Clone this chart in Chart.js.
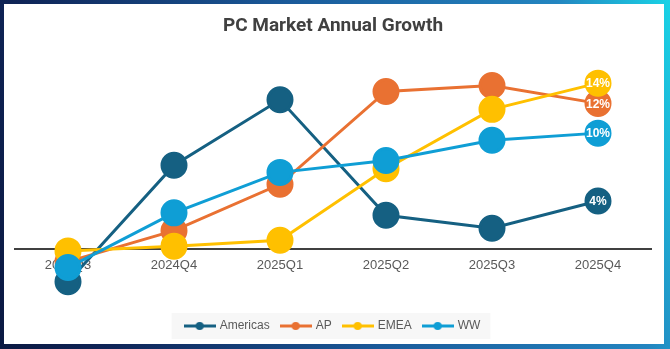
<!DOCTYPE html>
<html>
<head>
<meta charset="utf-8">
<script src="https://cdn.jsdelivr.net/npm/chart.js@4.4.1/dist/chart.umd.min.js"></script>
<style>
  html, body { margin: 0; padding: 0; }
  body {
    width: 670px; height: 349px; position: relative; overflow: hidden;
    background: linear-gradient(75deg, #0b1942 0%, #0f2558 15%, #1a5a9a 50%, #2385c0 85%, #19d3e6 100%);
  }
  #box {
    position: absolute; left: 4px; top: 4px; width: 660px; height: 340px;
    background: #fff; overflow: hidden;
  }
  #growthChart { position: absolute; left: -4px; top: 0; }
</style>
</head>
<body>
<div id="box"><canvas id="growthChart" width="666" height="340"></canvas></div>
<script>
const quarters = ['2024Q3', '2024Q4', '2025Q1', '2025Q2', '2025Q3', '2025Q4'];
const americas = [-2.8, 7.0, 12.5, 2.8, 1.7, 4.0];
const ap = [-1.1, 1.5, 5.4, 13.2, 13.7, 12.2];
const emea = [-0.2, 0.2, 0.7, 6.7, 11.7, 13.9];
const ww = [-1.6, 3.0, 6.4, 7.4, 9.1, 9.7];

const colors = {
    americas: '#156082',
    ap: '#e97132',
    emea: '#ffc000',
    ww: '#0f9ed5'
};

// little line-with-dot icon for the legend
function legendIcon(color) {
    let c = document.createElement('canvas');
    c.width = 32;
    c.height = 10;
    let g = c.getContext('2d');
    g.strokeStyle = color;
    g.lineWidth = 3;
    g.beginPath();
    g.moveTo(0, 5);
    g.lineTo(32, 5);
    g.stroke();
    g.fillStyle = color;
    g.beginPath();
    g.arc(16, 5, 4, 0, Math.PI * 2);
    g.fill();
    return c;
}

function makeSet(label, data, color, order) {
    return {
        label: label,
        data: data,
        borderColor: color,
        backgroundColor: color,
        pointBackgroundColor: color,
        pointBorderColor: color,
        borderWidth: 3,
        pointRadius: 12,
        pointHoverRadius: 12,
        tension: 0,
        fill: false,
        order: order,
        pointStyle: 'circle',
        legendIcon: legendIcon(color)
    };
}

// white % label on the last point of every series
const endLabels = {
    id: 'endLabels',
    afterDatasetsDraw(chart) {
        let ctx = chart.ctx;
        ctx.save();
        ctx.font = 'bold 12px "Liberation Sans", Arial, sans-serif';
        ctx.fillStyle = '#ffffff';
        ctx.textAlign = 'center';
        ctx.textBaseline = 'middle';
        chart.data.datasets.forEach((ds, i) => {
            let meta = chart.getDatasetMeta(i);
            let last = meta.data[meta.data.length - 1];
            let v = ds.data[ds.data.length - 1];
            ctx.fillText(Math.round(v) + '%', last.x, last.y + 1);
        });
        ctx.restore();
    }
};

// light grey panel behind the legend items
const legendPanel = {
    id: 'legendPanel',
    beforeDraw(chart) {
        let lg = chart.legend;
        if (!lg || !lg.legendHitBoxes || !lg.legendHitBoxes.length) return;
        let boxes = lg.legendHitBoxes;
        let left = boxes[0].left - 14;
        let right = boxes[boxes.length - 1].left + boxes[boxes.length - 1].width + 10;
        let ctx = chart.ctx;
        ctx.save();
        ctx.fillStyle = '#f7f7f7';
        ctx.fillRect(left, boxes[0].top - 7, right - left, boxes[0].height + 14);
        ctx.restore();
    }
};

let ctx = document.getElementById('growthChart').getContext('2d');
let growthChart = new Chart(ctx, {
    type: 'line',
    data: {
        labels: quarters,
        datasets: [
            makeSet('Americas', americas, colors.americas, 4),
            makeSet('AP', ap, colors.ap, 3),
            makeSet('EMEA', emea, colors.emea, 2),
            makeSet('WW', ww, colors.ww, 1)
        ]
    },
    options: {
        responsive: false,
        animation: false,
        events: [],
        layout: { padding: { left: 15, right: 15, top: 0, bottom: 2 } },
        plugins: {
            title: {
                display: true,
                text: 'PC Market Annual Growth',
                color: '#404040',
                font: { family: 'Roboto, sans-serif', size: 19, weight: 'bold' },
                padding: { top: 11, bottom: 18 }
            },
            legend: {
                position: 'bottom',
                labels: {
                    usePointStyle: true,
                    pointStyleWidth: 28,
                    padding: 12,
                    color: '#595959',
                    font: { family: '"Liberation Sans", Arial, sans-serif', size: 12 },
                    sort: (a, b) => a.datasetIndex - b.datasetIndex,
                    generateLabels(chart) {
                        return chart.data.datasets.map((ds, i) => ({
                            text: ds.label,
                            datasetIndex: i,
                            pointStyle: ds.legendIcon,
                            fillStyle: ds.borderColor,
                            strokeStyle: ds.borderColor,
                            lineWidth: 0,
                            fontColor: '#595959',
                            hidden: false
                        }));
                    }
                }
            },
            tooltip: { enabled: false }
        },
        scales: {
            x: {
                offset: true,
                position: { y: 0 },
                grid: { display: false },
                border: { display: true, color: '#404040', width: 2 },
                ticks: {
                    color: '#595959',
                    padding: 1,
                    font: { family: '"Liberation Sans", Arial, sans-serif', size: 13 }
                }
            },
            y: {
                display: false,
                min: -5,
                max: 16.2
            }
        }
    },
    plugins: [legendPanel, endLabels]
});
</script>
</body>
</html>
